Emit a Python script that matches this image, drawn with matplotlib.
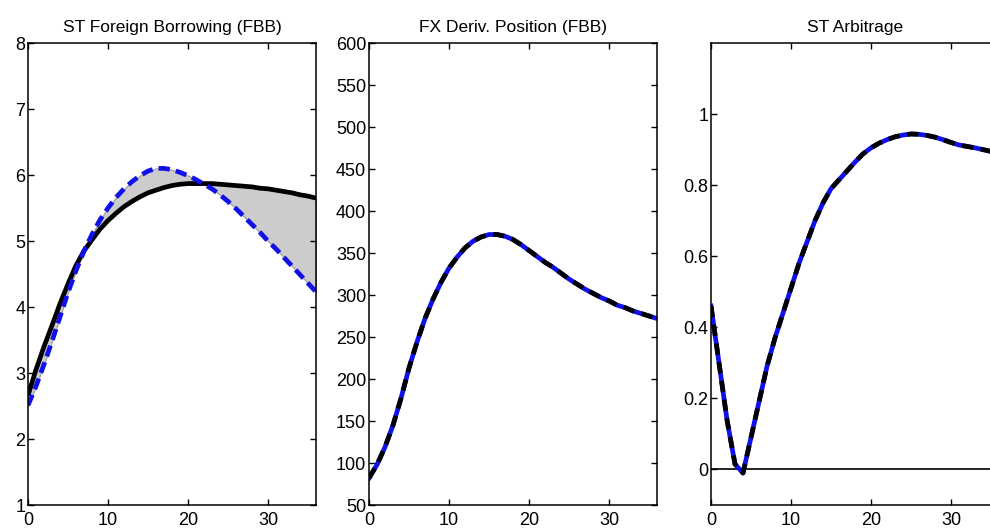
import numpy as np
import matplotlib.pyplot as plt

plt.rcParams['font.family'] = ['Liberation Sans Narrow', 'Liberation Sans', 'DejaVu Sans']

periods = np.arange(0, 37)

# ST foreign borrowing, two versions
fbb_solid = [2.66, 3.05, 3.40, 3.72, 4.05, 4.35, 4.63, 4.85, 5.02, 5.18,
             5.31, 5.42, 5.52, 5.60, 5.67, 5.73, 5.77, 5.81, 5.84, 5.86,
             5.87, 5.87, 5.87, 5.87, 5.86, 5.85, 5.84, 5.83, 5.82, 5.80,
             5.79, 5.77, 5.75, 5.73, 5.70, 5.68, 5.65]
fbb_dash = [2.51, 2.80, 3.13, 3.48, 3.85, 4.22, 4.55, 4.85, 5.10, 5.32,
            5.50, 5.66, 5.79, 5.90, 5.99, 6.06, 6.10, 6.10, 6.08, 6.04,
            5.99, 5.93, 5.86, 5.79, 5.70, 5.60, 5.49, 5.37, 5.25, 5.13,
            5.00, 4.88, 4.75, 4.62, 4.49, 4.36, 4.23]

# FX derivative position (both versions coincide)
fx_pos = [82, 98, 119, 145, 177, 213, 244, 272, 295, 315,
          332, 345, 356, 364, 369, 372, 372, 370, 366, 360,
          353, 346, 339, 333, 326, 319, 313, 307, 302, 297,
          293, 288, 285, 281, 278, 275, 272]

# ST arbitrage (both versions coincide)
arb = [0.46, 0.30, 0.14, 0.015, -0.01, 0.09, 0.19, 0.29, 0.37, 0.44,
       0.51, 0.58, 0.64, 0.70, 0.75, 0.79, 0.815, 0.84, 0.865, 0.888,
       0.905, 0.918, 0.928, 0.936, 0.941, 0.944, 0.943, 0.940, 0.935, 0.928,
       0.920, 0.913, 0.909, 0.905, 0.900, 0.895, 0.890]

titles = ["ST Foreign Borrowing (FBB)", "FX Deriv. Position (FBB)", "ST Arbitrage"]

fig = plt.figure(figsize=(9.9, 5.32), dpi=100)
lefts = [28 / 990, 369 / 990, 711 / 990]
w = 288 / 990
b = 1 - 505 / 532
h = (505 - 43) / 532
axs = [fig.add_axes([l, b, w, h]) for l in lefts]

lw = 3.4
blue = '#1010e8'

ax = axs[0]
ax.fill_between(periods, fbb_solid, fbb_dash, facecolor='#cccccc', edgecolor='#999999', linewidth=0.8)
ax.plot(periods, fbb_solid, color='black', lw=lw, solid_capstyle='butt')
ax.plot(periods, fbb_dash, color=blue, lw=lw, dashes=(2.4, 1.3))
ax.set_ylim(1, 8)
ax.set_yticks(range(1, 9))

ax = axs[1]
ax.plot(periods, fx_pos, color=blue, lw=lw)
ax.plot(periods, fx_pos, color='black', lw=lw, dashes=(2.4, 1.6))
ax.set_ylim(50, 600)
ax.set_yticks(range(50, 601, 50))

ax = axs[2]
ax.axhline(0, color='black', lw=1.2)
ax.plot(periods, arb, color=blue, lw=lw)
ax.plot(periods, arb, color='black', lw=lw, dashes=(2.4, 1.6))
ax.set_ylim(-0.1, 1.2)
ax.set_yticks([0, 0.2, 0.4, 0.6, 0.8, 1])
ax.set_yticklabels(['0', '0.2', '0.4', '0.6', '0.8', '1'])

for ax, t in zip(axs, titles):
    ax.set_xlim(0, 36)
    ax.set_xticks([0, 10, 20, 30])
    ax.tick_params(direction='in', top=True, right=True, length=4, width=1,
                   labelsize=13)
    ax.tick_params(axis='x', pad=5)
    ax.tick_params(axis='y', pad=2)
    for s in ax.spines.values():
        s.set_linewidth(1.1)
    ax.set_title(t, fontsize=12.5, pad=8)

fig.savefig('out.png', dpi=100)
